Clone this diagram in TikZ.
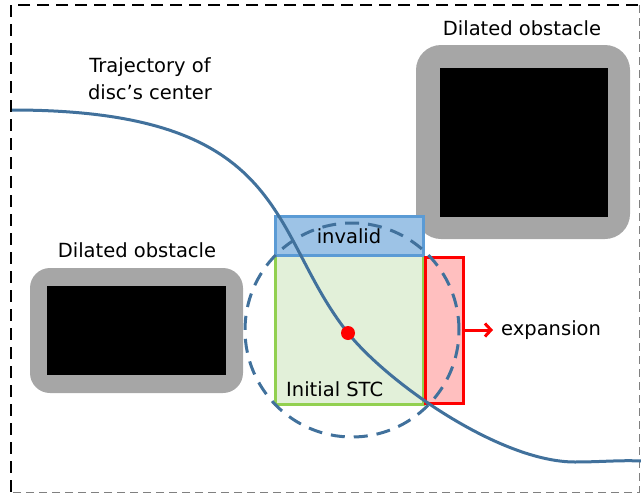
\documentclass[tikz,border=0pt]{standalone}
\usepackage{fontspec}
\setmainfont{DejaVu Sans}
\usetikzlibrary{arrows.meta}
\definecolor{traj}{HTML}{41719C}
\definecolor{obsgray}{HTML}{A6A6A6}
\definecolor{invfill}{HTML}{9DC3E6}
\definecolor{invdraw}{HTML}{5B9BD5}
\definecolor{stcfill}{HTML}{E2F0D9}
\definecolor{stcdraw}{HTML}{92D050}
\definecolor{expfill}{HTML}{FFBFBF}
\tikzset{
  lbl/.style={font=\fontsize{19.5}{27}\selectfont, inner sep=0pt, align=center},
  dilated/.style={fill=obsgray, rounded corners=#1, draw=none, inner sep=0pt},
  core/.style={fill=black, draw=none, inner sep=0pt},
  box/.style={inner sep=0pt, line width=3pt},
}
\begin{document}
\begin{tikzpicture}[x=1pt,y=-1pt]
\useasboundingbox (0,0) rectangle (641,493);
% frame
\draw[black, line width=1.5pt, dash pattern=on 12pt off 7pt] (638,5) -- (11,5) -- (11,493);
\draw[gray, line width=1pt, dash pattern=on 8pt off 5pt] (639,5) -- (639,492) -- (11,492);
% top-right obstacle
\node[dilated=25pt, minimum width=214pt, minimum height=194pt] (obsA) at (523,142) {};
\node[core, minimum width=168pt, minimum height=149pt] (coreA) at (524,142.5) {};
\node[lbl] (labA) at (522,28) {Dilated obstacle};
% left obstacle
\node[dilated=20pt, minimum width=213pt, minimum height=125pt] (obsB) at (136.5,330.5) {};
\node[core, minimum width=179pt, minimum height=89pt] (coreB) at (136.5,330.5) {};
\node[lbl] (labB) at (137,250) {Dilated obstacle};
% trajectory label
\node[lbl] (labT) at (150,79) {Trajectory of\\disc’s center};
% STC boxes
\node[box, draw=stcdraw, fill=stcfill, minimum width=148pt, minimum height=149pt] (stc) at (349,329.5) {};
\node[box, draw=invdraw, fill=invfill, minimum width=148pt, minimum height=39pt] (inv) at (349,235.5) {};
\node[lbl] (invlab) at (349,236) {invalid};
\node[box, draw=red, fill=expfill, minimum width=38pt, minimum height=146pt] (exp) at (444,330) {};
\node[lbl, anchor=south west] (stclab) at (286,397) {Initial STC};
% expansion arrow
\node[lbl, anchor=west] (explab) at (501,330) {expansion};
\draw[red, line width=3pt, -{Straight Barb[length=6pt,width=13pt]}, shorten >=8pt] (exp.east) -- (explab.west);
% disc
\node[circle, draw=traj, line width=3pt, dash pattern=on 14pt off 9pt, minimum size=214pt, inner sep=0pt] (disc) at (352,330) {};
% center
\coordinate (c) at (348,333);
% trajectory
\draw[traj, line width=3pt] (12,110) .. controls (292,110) and (268,233) .. (c) .. controls (388,383) and (500,462) .. (575,462) .. controls (600,462) and (620,460) .. (641,461);
\node[circle, fill=red, minimum size=14pt, inner sep=0pt] (ctr) at (c) {};
\end{tikzpicture}
\end{document}
